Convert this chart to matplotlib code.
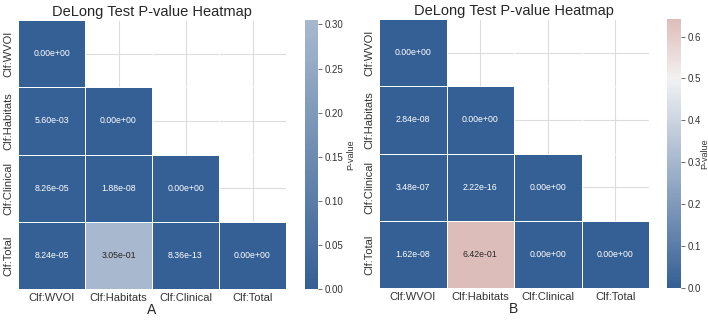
import numpy as np
import matplotlib
matplotlib.use("Agg")
import matplotlib.pyplot as plt
import seaborn as sns

sns.set_theme(style="whitegrid")
plt.rcParams['font.family'] = ['Liberation Sans', 'DejaVu Sans']

labels = ['Clf:WVOI', 'Clf:Habitats', 'Clf:Clinical', 'Clf:Total']

# p-values (lower triangle is what is shown; matrix is symmetric)
pvals_a = np.array([
    [0.00e+00, 5.60e-03, 8.26e-05, 8.24e-05],
    [5.60e-03, 0.00e+00, 1.88e-08, 3.05e-01],
    [8.26e-05, 1.88e-08, 0.00e+00, 8.36e-13],
    [8.24e-05, 3.05e-01, 8.36e-13, 0.00e+00],
])
pvals_b = np.array([
    [0.00e+00, 2.84e-08, 3.48e-07, 1.62e-08],
    [2.84e-08, 0.00e+00, 2.22e-16, 6.42e-01],
    [3.48e-07, 2.22e-16, 0.00e+00, 0.00e+00],
    [1.62e-08, 6.42e-01, 0.00e+00, 0.00e+00],
])
panel_names = ['A', 'B']

fig = plt.figure(figsize=(7.08, 3.2), dpi=100)
W, H = 708, 320

def box(x0, y0, x1, y1):
    return [x0 / W, 1 - y1 / H, (x1 - x0) / W, (y1 - y0) / H]

hm_boxes = [box(18, 20, 286, 289), box(379, 19, 649, 288)]
cb_boxes = [box(305, 20, 318, 289), box(667, 19, 681, 288)]
cb_labelpads = [2, -1]

cmap = sns.diverging_palette(250, 15, s=75, l=40, as_cmap=True)

for pv, name, hb, cbb, lp in zip([pvals_a, pvals_b], panel_names, hm_boxes, cb_boxes, cb_labelpads):
    ax = fig.add_axes(hb)
    cax = fig.add_axes(cbb)
    mask = np.triu(np.ones_like(pv, dtype=bool), k=1)
    sns.heatmap(pv, mask=mask, annot=True, fmt='.2e', cmap=cmap, center=0.5,
                vmin=0, vmax=pv.max(), linewidths=0.6, linecolor='white',
                xticklabels=labels, yticklabels=labels, ax=ax, cbar_ax=cax,
                annot_kws={'size': 6.3}, cbar_kws={'label': 'P-value'})
    ax.set_title('DeLong Test P-value Heatmap', fontsize=10.5, pad=3)
    ax.set_xlabel(name, fontsize=10, labelpad=0)
    ax.tick_params(axis='both', labelsize=8, length=0, pad=3, labelcolor='#333333')
    ax.set_xticklabels(labels, rotation=0)
    ax.set_yticklabels(labels, rotation=90, va='center')
    ax.grid(True, color='#dcdcdc', linewidth=0.8)
    ax.set_axisbelow(True)
    cbar = ax.collections[0].colorbar
    cbar.outline.set_visible(False)
    cax.tick_params(labelsize=7, length=3, width=0.6, color='#555555', right=True,
                    pad=2, labelcolor='#333333')
    cax.yaxis.label.set_size(6.5)
    cax.yaxis.label.set_color('#333333')
    cax.yaxis.labelpad = lp

fig.savefig('out.png', dpi=100)
